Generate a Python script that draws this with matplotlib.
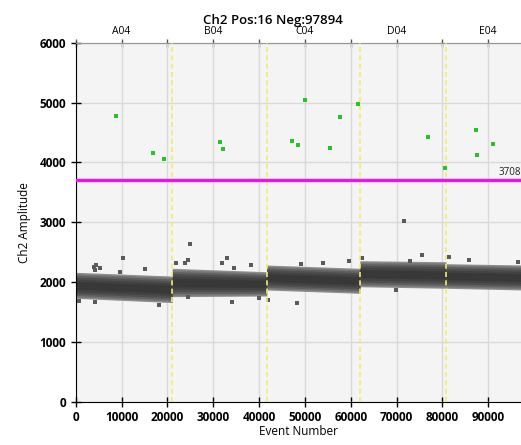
import matplotlib
matplotlib.use("Agg")
import matplotlib.pyplot as plt
import numpy as np

plt.rcParams['font.family'] = ['Open Sans', 'DejaVu Sans']

title = "Ch2 Pos:16 Neg:97894"
threshold = 3708
wells = ["A04", "B04", "C04", "D04", "E04"]
well_label_pos = [10000, 30000, 50000, 70000, 90000]
well_bounds = [0, 21080, 41670, 62020, 80780, 97910]

# negative droplet band (outer extent) per well: start / end of each well
band_lo_start = [1732, 1759, 1870, 1925, 1899]
band_hi_start = [2166, 2233, 2288, 2360, 2310]
band_lo_end = [1660, 1770, 1815, 1899, 1870]
band_hi_end = [2104, 2176, 2233, 2343, 2288]

# positive droplets (green)
pos_x = [8726, 16860, 19260, 31480, 32060, 47120, 48430, 50090, 55410,
         57660, 61650, 76850, 80630, 87390, 87610, 91030]
pos_y = [4771, 4153, 4058, 4337, 4220, 4354, 4292, 5043, 4237,
         4754, 4971, 4420, 3903, 4537, 4120, 4308]

# stray negative droplets outside the dense band
out_x = [10250, 4000, 4500, 5300, 4200, 15120, 9660, 24930, 21880, 23840,
         24570, 31850, 32940, 790, 4210, 18240, 24570, 34530, 38170, 49150,
         54010, 59620, 62390, 34030, 40060, 41880, 48340, 75480, 72930,
         81430, 85870, 69870, 71620, 96550]
out_y = [2400, 2260, 2280, 2230, 2200, 2216, 2166, 2633, 2326, 2320,
         2371, 2326, 2400, 1687, 1670, 1620, 1748, 2233, 2288, 2300,
         2316, 2360, 2400, 1675, 1731, 1703, 1648, 2455, 2360,
         2416, 2371, 1870, 3023, 2333]

fig = plt.figure(figsize=(5.21, 4.45), dpi=100)
ax = fig.add_axes([0.1453, 0.0966, 0.8547, 0.8074])
ax.set_facecolor('#f4f4f4')
ax.set_xlim(0, 97150)
ax.set_ylim(0, 6000)

ax.set_xticks(np.arange(0, 100000, 10000))
ax.set_yticks(np.arange(0, 7000, 1000))
ax.grid(True, color='#d9d9d9', linewidth=1.0)
ax.set_axisbelow(True)

# band layers
layers = [(1.0, '#8e8e8e'), (0.9, '#767676'), (0.78, '#606060'),
          (0.64, '#4e4e4e'), (0.48, '#424242'), (0.3, '#383838')]
for i in range(len(wells)):
    xs = [well_bounds[i], well_bounds[i + 1]]
    lo = np.array([band_lo_start[i], band_lo_end[i]], float)
    hi = np.array([band_hi_start[i], band_hi_end[i]], float)
    c = (lo + hi) / 2
    h = (hi - lo) / 2
    for f, col in layers:
        ax.fill_between(xs, c - h * f, c + h * f, color=col, linewidth=0, zorder=2)

ax.scatter(out_x, out_y, s=5, marker='s', color='#5a5a5a', linewidths=0, zorder=3)
ax.scatter(pos_x, pos_y, s=5.5, marker='s', color='#22c822', linewidths=0, zorder=4)

for b in well_bounds[1:-1]:
    ax.axvline(b, color='#eeee66', linestyle=(0, (3, 2)), linewidth=1.2, zorder=3)

ax.axhline(threshold, color='#ee11ee', linewidth=2.4, zorder=5)
ax.text(97150, threshold + 40, str(threshold), ha='right', va='bottom',
        fontsize=7, color='#222222', zorder=6)

ax.spines['right'].set_visible(False)
ax.spines['top'].set_color('#999999')
ax.spines['left'].set_color('black')
ax.spines['bottom'].set_color('black')

ax.tick_params(axis='both', direction='inout', length=7, width=1, labelsize=8.5)
for lab in ax.get_xticklabels() + ax.get_yticklabels():
    lab.set_fontweight('bold')
ax.tick_params(axis='x', pad=3)

sec = ax.secondary_xaxis('top')
sec.set_xticks(np.arange(0, 100000, 10000))
labels = []
for t in np.arange(0, 100000, 10000):
    labels.append(wells[well_label_pos.index(t)] if t in well_label_pos else '')
sec.set_xticklabels(labels, fontsize=7.5)
sec.tick_params(direction='inout', length=6, width=1, pad=1, color='#555555')
sec.spines['top'].set_color('#999999')

ax.set_xlabel("Event Number", fontsize=8.5, labelpad=1)
ax.set_ylabel("Ch2 Amplitude", fontsize=8.5, labelpad=6)
fig.text(0.524, 0.955, title, ha='center', va='center', fontsize=9.5,
         fontweight='semibold')

fig.savefig("out.png", dpi=100)
